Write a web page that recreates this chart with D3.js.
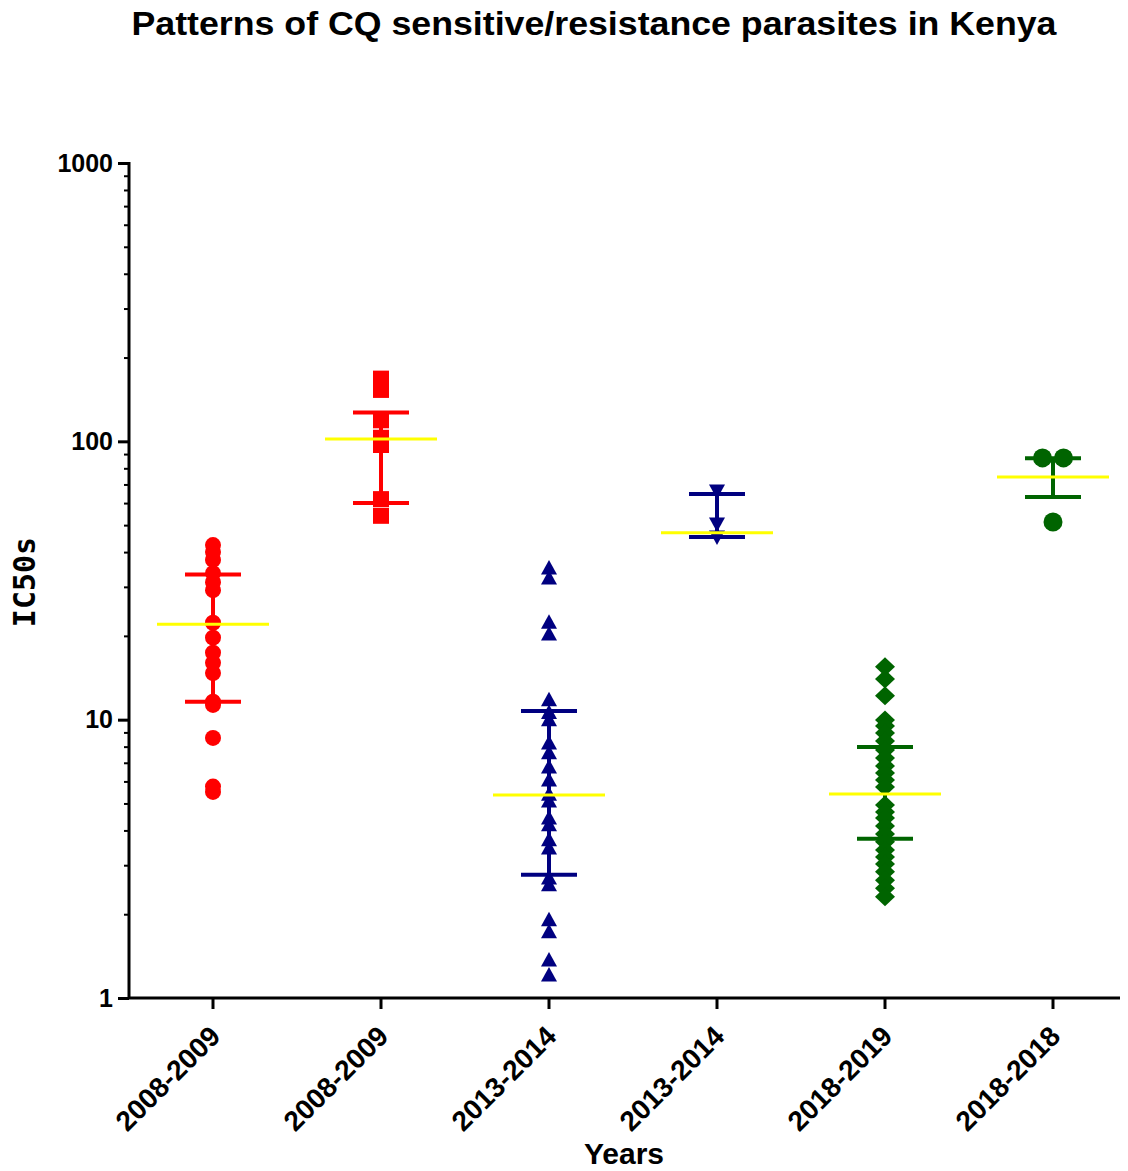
<!DOCTYPE html>
<html>
<head>
<meta charset="utf-8">
<script src="https://cdn.jsdelivr.net/npm/d3@7"></script>
<style>
  html, body { margin: 0; padding: 0; background: #fff; }
  svg { display: block; }
</style>
</head>
<body>
<svg id="chart" width="1128" height="1171"></svg>
<script>
// Period labels along the x axis
const categories = ["2008-2009", "2008-2009", "2013-2014", "2013-2014", "2018-2019", "2018-2018"];

// IC50 values for each group
const g1Values = [42.4, 40.0, 37.5, 33.6, 31.2, 29.2, 22.3, 19.7, 17.4, 16.0, 14.7, 11.6, 11.3, 8.6, 5.75, 5.5];
const g2Values = [168, 153, 119, 103, 97, 62, 54];
const g3Values = [35.1, 32.3, 22.4, 20.3, 11.8, 10.6, 10.0, 8.25, 7.6, 6.76, 6.07, 5.4, 5.1, 4.43, 4.19, 3.7, 3.46, 2.7, 2.55, 1.91, 1.73, 1.37, 1.21];
const g4Values = [66.3, 50.5, 45.3];
const g5Values = [15.5, 14.0, 12.2, 9.97, 9.49, 8.96, 8.38, 7.78, 7.28, 6.82, 6.43, 6.07, 5.73, 4.94, 4.66, 4.43, 4.15, 3.88, 3.64, 3.40, 3.21, 3.03, 2.84, 2.65, 2.48, 2.31];
const g6Values = [87.2, 87.2, 51.3];

// Central line and error-bar limits per group
const centers = [22.0, 102, 5.36, 46.9, 5.41, 74.5];
const lowers = [11.6, 60, 2.77, 45.3, 3.73, 63.1];
const uppers = [33.2, 127, 10.75, 64.7, 7.98, 87.0];

// Y axis tick values
const yMajorTicks = [1, 10, 100, 1000];

const groupValues = [g1Values, g2Values, g3Values, g4Values, g5Values, g6Values];
const colors = ["#ff0000", "#ff0000", "#000080", "#000080", "#006400", "#006400"];
const shapes = ["circle", "square", "triangle", "triangleDown", "diamond", "bigCircle"];

const svg = d3.select("#chart");
const plotLeft = 129, plotTop = 163, plotBottom = 998;
const sans = "Liberation Sans, Arial, sans-serif";

const x = d3.scaleBand().domain(d3.range(categories.length)).range([plotLeft, plotLeft + 168 * 6]).padding(0);
const y = d3.scaleLog().domain([1, 1000]).range([plotBottom, plotTop]);

// Title
svg.append("text")
  .attr("x", 594).attr("y", 35)
  .attr("text-anchor", "middle")
  .attr("font-family", sans)
  .attr("font-weight", "bold")
  .attr("font-size", 34)
  .attr("textLength", 925)
  .attr("lengthAdjust", "spacingAndGlyphs")
  .text("Patterns of CQ sensitive/resistance parasites in Kenya");

// Y axis
const minorTicks = [];
for (let d = 1; d < 1000; d *= 10) for (let k = 2; k <= 9; k++) minorTicks.push(d * k);

svg.append("g").attr("transform", `translate(${plotLeft},0)`)
  .call(d3.axisLeft(y).tickValues(minorTicks).tickSize(5).tickFormat(""))
  .call(g => g.select(".domain").remove())
  .call(g => g.selectAll("line").attr("stroke", "#000").attr("stroke-width", 2));
const yMajor = svg.append("g").attr("transform", `translate(${plotLeft},0)`)
  .call(d3.axisLeft(y).tickValues(yMajorTicks).tickSize(11).tickPadding(5).tickFormat(d3.format("d")));
yMajor.select(".domain").attr("stroke", "#000").attr("stroke-width", 3).attr("d", `M0,${plotBottom + 1}V${plotTop - 1}`);
yMajor.selectAll(".tick line").attr("stroke", "#000").attr("stroke-width", 3);
yMajor.selectAll(".tick text")
  .attr("font-family", sans)
  .attr("font-weight", "bold")
  .style("font-size", "25px")
  .attr("fill", "#000");

// X axis
const xAxisG = svg.append("g").attr("transform", `translate(0,${plotBottom})`)
  .call(d3.axisBottom(x).tickSize(11).tickFormat(i => categories[i]));
xAxisG.select(".domain").attr("stroke", "#000").attr("stroke-width", 3).attr("d", `M${plotLeft - 1},0H1120`);
xAxisG.selectAll(".tick line").attr("stroke", "#000").attr("stroke-width", 3);
xAxisG.selectAll(".tick text")
  .attr("font-family", sans)
  .attr("font-weight", "bold")
  .style("font-size", "28px")
  .attr("fill", "#000")
  .attr("text-anchor", "end")
  .attr("y", 0)
  .attr("dy", null)
  .attr("transform", "translate(9,40) rotate(-45)");

// Axis titles
svg.append("text")
  .attr("x", 624).attr("y", 1164)
  .attr("text-anchor", "middle")
  .attr("font-family", sans)
  .attr("font-weight", "bold")
  .attr("font-size", 30)
  .text("Years");

svg.append("text")
  .attr("transform", "translate(35,582) rotate(-90)")
  .attr("text-anchor", "middle")
  .attr("font-family", "DejaVu Sans Mono, monospace")
  .attr("font-weight", "bold")
  .attr("font-size", 30)
  .text("IC50s");

// Marker shapes
function markerPath(shape) {
  switch (shape) {
    case "circle": return d3.symbol(d3.symbolCircle, Math.PI * 8 * 8)();
    case "bigCircle": return d3.symbol(d3.symbolCircle, Math.PI * 9.5 * 9.5)();
    case "square": return "M-8,-8H8V8H-8Z";
    case "triangle": return "M0,-8L8,6.5H-8Z";
    case "triangleDown": return "M0,8L8,-6.5H-8Z";
    case "diamond": return "M0,-9.5L10,0L0,9.5L-10,0Z";
  }
}

// Spread tied values side by side
function offsets(vals) {
  const counts = {}, seen = {};
  vals.forEach(v => counts[v] = (counts[v] || 0) + 1);
  return vals.map(v => {
    const n = counts[v];
    const idx = seen[v] = (seen[v] === undefined ? 0 : seen[v] + 1);
    return n > 1 ? (idx - (n - 1) / 2) * 21 : 0;
  });
}

const plot = svg.append("g");
groupValues.forEach((vals, gi) => {
  const cx = x(gi) + x.bandwidth() / 2;
  const offs = offsets(vals);
  plot.append("g").selectAll("path").data(vals).join("path")
    .attr("d", markerPath(shapes[gi]))
    .attr("transform", (d, i) => `translate(${cx + offs[i]},${y(d)})`)
    .attr("fill", colors[gi]);
});

// Error bars
groupValues.forEach((vals, gi) => {
  const cx = x(gi) + x.bandwidth() / 2;
  const g = plot.append("g").attr("stroke", colors[gi]).attr("stroke-width", 4);
  g.append("line").attr("x1", cx).attr("x2", cx).attr("y1", y(uppers[gi])).attr("y2", y(lowers[gi]));
  g.append("line").attr("x1", cx - 28).attr("x2", cx + 28).attr("y1", y(uppers[gi])).attr("y2", y(uppers[gi]));
  g.append("line").attr("x1", cx - 28).attr("x2", cx + 28).attr("y1", y(lowers[gi])).attr("y2", y(lowers[gi]));
});

// Central lines
groupValues.forEach((vals, gi) => {
  const cx = x(gi) + x.bandwidth() / 2;
  plot.append("line")
    .attr("x1", cx - 56).attr("x2", cx + 56)
    .attr("y1", y(centers[gi])).attr("y2", y(centers[gi]))
    .attr("stroke", "#ffff00").attr("stroke-width", 3);
});
</script>
</body>
</html>
